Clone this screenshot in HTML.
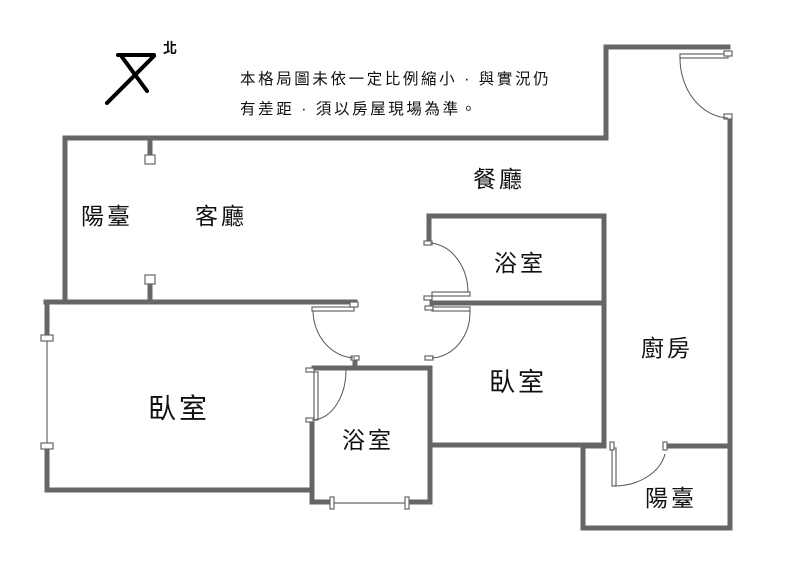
<!DOCTYPE html>
<html><head><meta charset="utf-8"><style>
body{margin:0;background:#fff}
text{font-family:"Liberation Sans","Noto Sans CJK TC",sans-serif;fill:#111}
</style></head><body>
<svg width="797" height="575" viewBox="0 0 797 575" xmlns="http://www.w3.org/2000/svg">
<g stroke="#666" stroke-width="5" fill="none" stroke-linecap="square">
<polyline points="65,300 65,138 606,138 606,47 728,47"/>
<line x1="730" y1="118" x2="730" y2="528"/>
<polyline points="583,447 583,528 730,528"/>
<line x1="666" y1="446" x2="730" y2="446"/>
<line x1="604" y1="216" x2="604" y2="446"/>
<line x1="583" y1="446" x2="604" y2="446"/>
<polyline points="429,242 429,216 604,216"/>
<line x1="432" y1="303" x2="604" y2="303"/>
<line x1="430" y1="368" x2="430" y2="502"/>
<line x1="430" y1="445" x2="604" y2="445"/>
<line x1="46" y1="302" x2="355" y2="302"/>
<line x1="47" y1="302" x2="47" y2="335"/>
<line x1="47" y1="449" x2="47" y2="490"/>
<line x1="47" y1="490" x2="310" y2="490"/>
<line x1="150" y1="138" x2="150" y2="154"/>
<line x1="150" y1="284" x2="150" y2="302"/>
<line x1="314" y1="368" x2="430" y2="368"/>
<line x1="312" y1="422" x2="312" y2="502"/>
<line x1="312" y1="502" x2="330" y2="502"/>
<line x1="408" y1="502" x2="430" y2="502"/>
<line x1="355" y1="360" x2="355" y2="368"/>
</g>
<g stroke="#666" stroke-width="1.2" fill="#fff">
<rect x="145" y="155" width="10" height="9"/>
<rect x="145" y="275" width="10" height="9"/>
<rect x="41" y="335" width="12" height="6"/>
<rect x="41" y="443" width="12" height="6"/>
<line x1="47" y1="341" x2="47" y2="443"/>
<rect x="330" y="497" width="4" height="12"/>
<rect x="405" y="497" width="4" height="12"/>
<line x1="334" y1="503" x2="405" y2="503"/>
<rect x="680" y="54" width="48" height="4"/><rect x="724" y="51" width="8" height="5"/><rect x="724" y="114" width="8" height="5"/>
<rect x="312" y="307" width="42" height="4"/><rect x="350" y="302" width="8" height="5"/><rect x="351" y="356" width="8" height="4"/>
<rect x="432" y="307" width="38" height="4"/><rect x="425" y="306" width="8" height="4"/><rect x="425" y="356" width="8" height="4"/>
<rect x="432" y="292" width="38" height="4"/><rect x="424" y="296" width="8" height="4"/><rect x="424" y="241" width="8" height="4"/>
<rect x="314" y="372" width="4" height="48"/><rect x="306" y="368" width="8" height="4"/><rect x="306" y="418" width="8" height="4"/>
<rect x="612" y="448" width="4" height="38"/><rect x="610" y="442" width="4" height="8"/><rect x="663" y="442" width="4" height="8"/>
</g>
<g stroke="#555" stroke-width="1" fill="none">
<path d="M680,57 A50,60 0 0 0 728,118"/>
<path d="M313,311 A43,48 0 0 0 355,358"/>
<path d="M470,311 A40,46 0 0 1 432,358"/>
<path d="M468,292 A40,50 0 0 0 430,243"/>
<path d="M346,370 A34,50 0 0 1 312,420"/>
<path d="M614,486 A52,40 0 0 0 665,454"/>
</g>
<g stroke="#000" stroke-width="4" stroke-linecap="round" fill="none">
<line x1="118" y1="55" x2="154" y2="55"/>
<line x1="122" y1="57" x2="147" y2="91"/>
<line x1="154" y1="56" x2="107" y2="103"/>
</g>
<text x="163" y="53" font-size="14" font-weight="bold">北</text>
<g font-size="15.5" letter-spacing="2.6">
<text x="240" y="84">本格局圖未依一定比例縮小 · 與實況仍</text>
<text x="240" y="114">有差距 · 須以房屋現場為準。</text>
</g>
<g font-size="23" letter-spacing="3">
<text x="81" y="224">陽臺</text>
<text x="195" y="224">客廳</text>
<text x="473" y="187">餐廳</text>
<text x="494" y="271">浴室</text>
<text x="641" y="356">廚房</text>
<text x="342" y="448">浴室</text>
<text x="645" y="506">陽臺</text>
</g>
<text x="489" y="391" font-size="26" letter-spacing="3">臥室</text>
<text x="148" y="418" font-size="28" letter-spacing="3">臥室</text>
</svg>
</body></html>
